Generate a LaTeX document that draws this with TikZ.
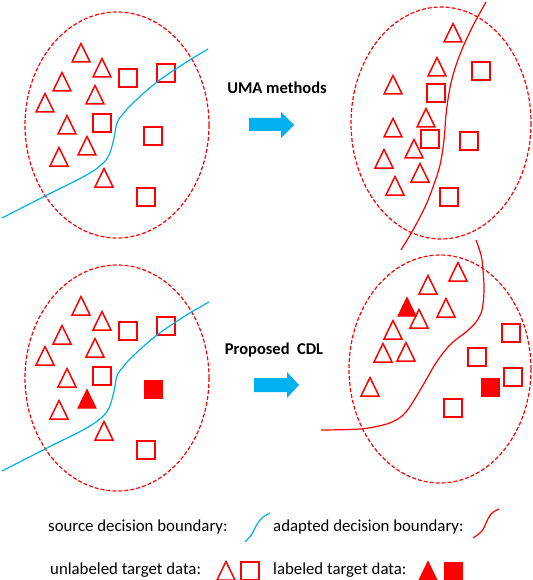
\documentclass[tikz,border=0pt]{standalone}
\usepackage{fontspec}
\setmainfont{Carlito}
\begin{document}
\begin{tikzpicture}[x=1pt,y=-1pt,
  shp/.style={draw=red,line width=1.5pt,line join=miter},
  shpf/.style={fill=red,draw=red,line width=1pt},
  region/.style={draw=red,dash pattern=on 4pt off 2pt,line width=1.2pt},
  adpb/.style={draw=red,line width=1.2pt},
  blockarrow/.style={fill=arrowblue,draw=none},
  title/.style={font=\bfseries\fontsize{16.5}{19}\selectfont,inner sep=0pt},
  legend/.style={font=\fontsize{16.8}{19}\selectfont,inner sep=0pt},
  tri/.pic={\draw[shp] (-9,9)--(0,-9.5)--(9,9)--cycle;},
  trif/.pic={\draw[shpf] (-9,9)--(0,-9.5)--(9,9)--cycle;},
  sq/.pic={\draw[shp] (-9,-9) rectangle (9,9);},
  sqf/.pic={\draw[shpf] (-9,-9) rectangle (9,9);}
]
\definecolor{arrowblue}{RGB}{0,176,240}
\colorlet{srcblue}{arrowblue}
\tikzset{srcb/.style={draw=srcblue,line width=1.2pt}}
\useasboundingbox (0,0) rectangle (532,580);

% ---------- top left ----------
\draw[region] (117,125) ellipse [x radius=92,y radius=113];
\foreach \x/\y in {81/53,102/68,62/82,95/95,45/103,67/125,87/146,59/157,104/178}
  \pic at (\x,\y) {tri};
\foreach \x/\y in {128/78,166/73,102/123,153/136,146/197}
  \pic at (\x,\y) {sq};
\draw[srcb] plot[smooth,tension=0.6] coordinates {(2,218) (53,192) (83,177) (100,166) (109,155) (114,138) (117,123) (123,114) (133,103) (157,82) (185,63) (208,49)};

% ---------- top right ----------
\draw[region] (441,123) ellipse [x radius=90,y radius=116];
\foreach \x/\y in {453/33,437/67,393/85,426/118,393/128,414/149,384/159,420/173,395/186}
  \pic at (\x,\y) {tri};
\foreach \x/\y in {481/71,436/93,430/139,469/141,449/197}
  \pic at (\x,\y) {sq};
\draw[adpb] plot[smooth,tension=0.6] coordinates {(401,250) (413,230) (425,207) (433,187) (440,165) (444,140) (446,115) (449,93) (453,75) (459,57) (467,38) (476,20) (486,2)};

% ---------- bottom left ----------
\draw[region] (117,378) ellipse [x radius=92,y radius=113];
\foreach \x/\y in {81/306,102/321,62/335,95/348,45/356,67/378,59/410,104/431}
  \pic at (\x,\y) {tri};
\pic at (87,399) {trif};
\foreach \x/\y in {128/331,166/326,102/376,146/450}
  \pic at (\x,\y) {sq};
\pic at (153,389) {sqf};
\draw[srcb] plot[smooth,tension=0.6] coordinates {(2,471) (53,445) (83,430) (100,419) (109,408) (114,391) (117,376) (123,367) (133,356) (157,335) (185,316) (209,302)};

% ---------- bottom right ----------
\draw[region] (440,369) ellipse [x radius=91,y radius=114];
\foreach \x/\y in {458/272,428/285,446/308,419/319,393/330,383/353,406/352,370/387}
  \pic at (\x,\y) {tri};
\pic at (407,307) {trif};
\foreach \x/\y in {511/333,477/357,513/377,453/408}
  \pic at (\x,\y) {sq};
\pic at (490,387) {sqf};
\draw[adpb] plot[smooth,tension=0.6] coordinates {(476,240) (481,255) (483,270) (484,290) (482,310) (476,322) (466,332) (453,342) (443,353) (434,366) (426,380) (416,397) (406,412) (396,420) (383,425) (360,429) (321,430)};

% ---------- arrows and titles ----------
\node[title] (uma) at (277,88) {UMA methods};
\draw[blockarrow] (249,118) -- (281,118) -- (281,112) -- (294,125) -- (281,138) -- (281,131) -- (249,131) -- cycle;
\node[title] (cdl) at (274,350) {Proposed\ \ CDL};
\draw[blockarrow] (254,378) -- (287,378) -- (287,372) -- (299,385) -- (287,398) -- (287,392) -- (254,392) -- cycle;

% ---------- legend ----------
\node[legend,anchor=west] (srclab) at (48,527) {source decision boundary:};
\draw[srcb] plot[smooth,tension=0.7] coordinates {(245,542) (252,534) (256,526) (262,518) (270,513)};
\node[legend,anchor=west] (adplab) at (273,527) {adapted decision boundary:};
\draw[adpb] plot[smooth,tension=0.7] coordinates {(473,538) (482,531) (486,523) (491,514) (499,509)};
\node[legend,anchor=west] (unlab) at (50,570) {unlabeled target data:};
\pic at (226,571) {tri};
\pic at (250,571) {sq};
\node[legend,anchor=west] (lab) at (273,570) {labeled target data:};
\pic at (428,571) {trif};
\pic at (453,571) {sqf};
\end{tikzpicture}
\end{document}
